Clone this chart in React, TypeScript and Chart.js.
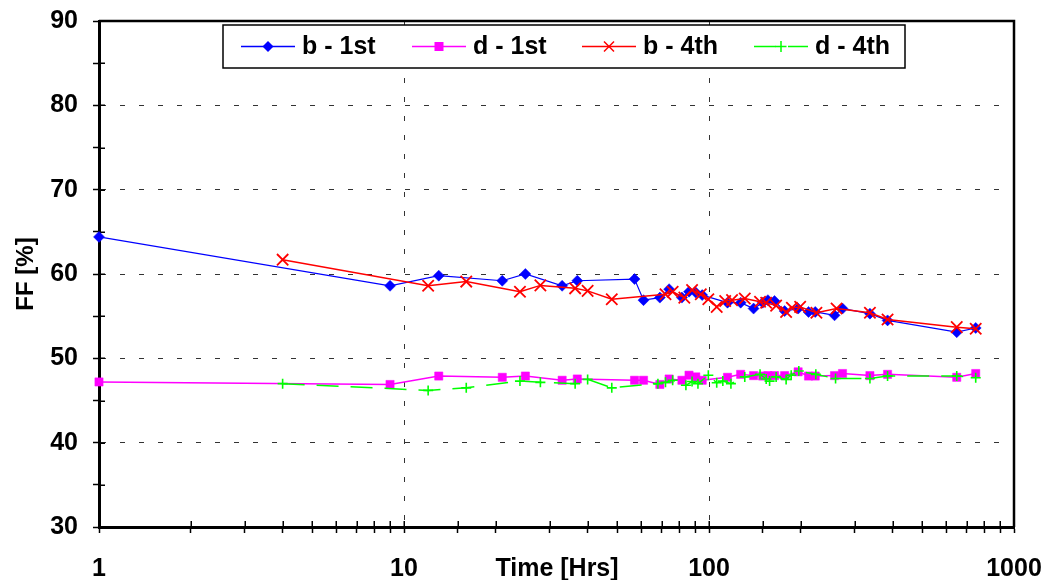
import React, { useEffect, useRef } from "react";
import { Chart, registerables } from "chart.js";

Chart.register(...registerables);

// ---- data ----
const b1Time = [1, 9, 13, 21, 25, 33, 37, 57, 61, 69, 74, 81.5, 86, 90.5, 95, 115, 127, 140, 150, 156, 164, 177, 196, 212, 223, 258, 274, 337, 385, 649, 749];
const b1FF = [64.4, 58.6, 59.8, 59.2, 60.0, 58.6, 59.2, 59.4, 56.9, 57.2, 58.2, 57.2, 57.9, 57.8, 57.5, 56.6, 56.6, 55.9, 56.6, 56.9, 56.8, 55.6, 55.9, 55.5, 55.5, 55.1, 55.9, 55.3, 54.5, 53.1, 53.6];

const d1Time = [1, 9, 13, 21, 25, 33, 37, 57, 61, 69, 74, 81.5, 86, 90.5, 95, 115, 127, 140, 150, 156, 164, 177, 196, 212, 223, 258, 274, 337, 385, 649, 749];
const d1FF = [47.2, 46.9, 47.9, 47.75, 47.9, 47.4, 47.55, 47.4, 47.4, 46.9, 47.55, 47.4, 48.0, 47.8, 47.4, 47.75, 48.1, 47.95, 47.9, 47.95, 47.95, 47.95, 48.4, 47.9, 47.9, 47.95, 48.2, 47.95, 48.1, 47.75, 48.2];

const b4Time = [4, 12, 16, 24, 28, 36.4, 40, 48, 72, 76, 83, 88, 94, 99.5, 106, 113, 119, 131, 147, 154, 166, 179, 187, 199, 225, 262, 337, 385, 649, 749];
const b4FF = [61.7, 58.6, 59.1, 57.9, 58.65, 58.3, 58.0, 57.0, 57.6, 57.9, 57.2, 58.1, 57.6, 57.0, 56.1, 56.8, 56.9, 57.1, 56.7, 56.6, 56.25, 55.5, 56.0, 56.1, 55.4, 55.9, 55.4, 54.6, 53.7, 53.5];

const d4Time = [4, 12, 16, 24, 28, 36.4, 40, 48, 68, 72, 76, 84, 88, 92, 99.5, 106, 111, 118, 131, 147, 154, 158, 166, 179, 186, 197, 224, 260, 337, 385, 649, 749];
const d4FF = [47.0, 46.2, 46.5, 47.3, 47.15, 47.0, 47.5, 46.5, 47.0, 47.15, 47.4, 46.8, 47.25, 47.0, 48.0, 47.1, 47.3, 47.0, 47.8, 48.1, 47.55, 47.3, 47.8, 47.5, 48.0, 48.5, 48.1, 47.6, 47.6, 47.9, 47.9, 47.7];

const seriesLabels = ["b - 1st", "d - 1st", "b - 4th", "d - 4th"];
const seriesColors = ["#0000FF", "#FF00FF", "#FF0000", "#00FF00"];
const xTickLabels = [1, 10, 100, 1000];
const yTickLabels = [30, 40, 50, 60, 70, 80, 90];
const xTitle = "Time [Hrs]";
const yTitle = "FF [%]";

const FONT = '"Liberation Sans", Arial, Helvetica, sans-serif';
const GREEN_DASH = [22, 12];
const GRID_DASH = [5, 14];
const pointStyles = ["rectRot", "rect", "crossRot", "cross"];
const pointRadii = [5.5, 5.8, 8, 5];
const pointBorders = [0.5, 0.5, 1.8, 1.6];

function drawMarker(ctx: CanvasRenderingContext2D, style: string, x: number, y: number, color: string) {
  ctx.save();
  ctx.fillStyle = color;
  ctx.strokeStyle = color;
  ctx.setLineDash([]);
  ctx.lineWidth = 1.5;
  ctx.beginPath();
  if (style === "rectRot") {
    const r = 5.5;
    ctx.moveTo(x, y - r);
    ctx.lineTo(x + r, y);
    ctx.lineTo(x, y + r);
    ctx.lineTo(x - r, y);
    ctx.closePath();
    ctx.fill();
  } else if (style === "rect") {
    const s = 4.5;
    ctx.rect(x - s, y - s, 2 * s, 2 * s);
    ctx.fill();
  } else if (style === "crossRot") {
    const s = 5;
    ctx.moveTo(x - s, y - s);
    ctx.lineTo(x + s, y + s);
    ctx.moveTo(x - s, y + s);
    ctx.lineTo(x + s, y - s);
    ctx.stroke();
  } else {
    const s = 5.5;
    ctx.moveTo(x - s, y);
    ctx.lineTo(x + s, y);
    ctx.moveTo(x, y - s);
    ctx.lineTo(x, y + s);
    ctx.stroke();
  }
  ctx.restore();
}

export default function App() {
  const ref = useRef<HTMLCanvasElement>(null);

  useEffect(() => {
    if (!ref.current) return;
    const pts = (t: number[], v: number[]) => t.map((x, i) => ({ x, y: v[i] }));
    const isPow10 = (v: number) => {
      const l = Math.log10(v);
      return Math.abs(l - Math.round(l)) < 1e-9;
    };

    const framePlugin = {
      id: "frameAndLegend",
      beforeDatasetsDraw(chart: any) {
        // inner halves of the tick marks (ticks cross the axes)
        const ctx: CanvasRenderingContext2D = chart.ctx;
        const a = chart.chartArea;
        const xs = chart.scales.x;
        const ys = chart.scales.y;
        ctx.save();
        ctx.strokeStyle = "#000";
        ctx.lineWidth = 1.5;
        ctx.setLineDash([]);
        ctx.beginPath();
        ys.ticks.forEach((t: any) => {
          const py = Math.round(ys.getPixelForValue(t.value)) + 0.25;
          ctx.moveTo(a.left, py);
          ctx.lineTo(a.left + 6, py);
        });
        xs.ticks.forEach((t: any) => {
          const px = Math.round(xs.getPixelForValue(t.value)) + 0.25;
          ctx.moveTo(px, a.bottom);
          ctx.lineTo(px, a.bottom - 6);
        });
        ctx.stroke();
        ctx.restore();
      },
      afterDraw(chart: any) {
        const ctx: CanvasRenderingContext2D = chart.ctx;
        const a = chart.chartArea;
        ctx.save();
        // top & right frame
        ctx.strokeStyle = "#000";
        ctx.lineWidth = 2.5;
        ctx.setLineDash([]);
        ctx.beginPath();
        ctx.moveTo(a.left, a.top);
        ctx.lineTo(a.right, a.top);
        ctx.lineTo(a.right, a.bottom);
        ctx.stroke();

        // legend box
        const bx = 223, by = 25, bw = 682, bh = 43;
        ctx.fillStyle = "#fff";
        ctx.fillRect(bx, by, bw, bh);
        ctx.strokeStyle = "#000";
        ctx.lineWidth = 1.5;
        ctx.strokeRect(bx, by, bw, bh);
        const itemX = [241, 412, 582, 754];
        const cy = by + bh / 2;
        ctx.font = `bold 25px ${FONT}`;
        ctx.textBaseline = "middle";
        ctx.textAlign = "left";
        seriesLabels.forEach((lab, i) => {
          const x0 = itemX[i];
          ctx.save();
          ctx.strokeStyle = seriesColors[i];
          ctx.lineWidth = 1.5;
          ctx.setLineDash(i === 3 ? GREEN_DASH : []);
          ctx.beginPath();
          ctx.moveTo(x0, cy);
          ctx.lineTo(x0 + 54, cy);
          ctx.stroke();
          ctx.restore();
          drawMarker(ctx, pointStyles[i], x0 + 27, cy, seriesColors[i]);
          ctx.fillStyle = "#000";
          ctx.fillText(lab, x0 + 61, cy + 1);
        });

        // x title
        ctx.font = `bold 25px ${FONT}`;
        ctx.textAlign = "center";
        ctx.textBaseline = "middle";
        ctx.fillStyle = "#000";
        ctx.fillText(xTitle, 557, 569);
        ctx.restore();
      },
    };

    const ds = (i: number, data: any[], extra: any = {}) => ({
      label: seriesLabels[i],
      data,
      order: 3 - i,
      borderColor: seriesColors[i],
      backgroundColor: seriesColors[i],
      borderWidth: i === 0 ? 1.2 : 1.5,
      pointStyle: pointStyles[i],
      pointRadius: pointRadii[i],
      pointBorderWidth: pointBorders[i],
      pointBorderColor: seriesColors[i],
      pointBackgroundColor: seriesColors[i],
      tension: 0,
      clip: false,
      ...extra,
    });

    const gridOpts = (isMajor: (v: number) => boolean) => ({
      color: (c: any) => {
        const v = c.tick && c.tick.value;
        return isMajor(v) ? "#333" : "rgba(0,0,0,0)";
      },
      lineWidth: 1,
      drawTicks: true,
      tickLength: 6,
      tickColor: "#000",
      tickWidth: 1.5,
      tickBorderDash: [],
    });

    const chart = new Chart(ref.current, {
      type: "line",
      data: {
        datasets: [
          ds(0, pts(b1Time, b1FF)),
          ds(1, pts(d1Time, d1FF)),
          ds(2, pts(b4Time, b4FF)),
          ds(3, pts(d4Time, d4FF), { borderDash: GREEN_DASH }),
        ],
      },
      options: {
        responsive: false,
        animation: false,
        events: [],
        layout: { padding: { top: 21, right: 36, left: 0, bottom: 0 } },
        plugins: {
          legend: { display: false },
          tooltip: { enabled: false },
          title: { display: false },
        },
        scales: {
          x: {
            type: "logarithmic",
            min: 1,
            max: 1000,
            afterFit: (s: any) => {
              s.height = 53;
              s.paddingLeft = 0;
              s.paddingRight = 0;
            },
            border: { display: true, color: "#000", width: 3, dash: GRID_DASH },
            grid: gridOpts((v) => v === 10 || v === 100),
            ticks: {
              autoSkip: false,
              maxRotation: 0,
              minRotation: 0,
              padding: 21,
              color: "#000",
              font: { family: FONT, size: 25, weight: "bold" },
              callback: (v: any) => (isPow10(Number(v)) && xTickLabels.includes(Math.round(Number(v))) ? String(Math.round(Number(v))) : ""),
            },
          },
          y: {
            type: "linear",
            min: 30,
            max: 90,
            afterFit: (s: any) => {
              s.width = 99;
              s.paddingTop = 0;
              s.paddingBottom = 0;
            },
            border: { display: true, color: "#000", width: 3, dash: GRID_DASH },
            grid: gridOpts((v) => v % 10 === 0 && v !== 30 && v !== 90),
            ticks: {
              stepSize: 5,
              autoSkip: false,
              padding: 15,
              color: "#000",
              font: { family: FONT, size: 25, weight: "bold" },
              callback: (v: any) => (yTickLabels.includes(Number(v)) ? String(v) : ""),
            },
            title: {
              display: true,
              text: yTitle,
              color: "#000",
              font: { family: FONT, size: 24, weight: "bold" },
              padding: { top: 12, bottom: 0 },
            },
          },
        },
      } as any,
      plugins: [framePlugin],
    });

    return () => chart.destroy();
  }, []);

  return (
    <div style={{ position: "fixed", left: 0, top: 0, width: 1050, height: 580, background: "#fff" }}>
      <canvas ref={ref} width={1050} height={580} style={{ display: "block" }} />
    </div>
  );
}
